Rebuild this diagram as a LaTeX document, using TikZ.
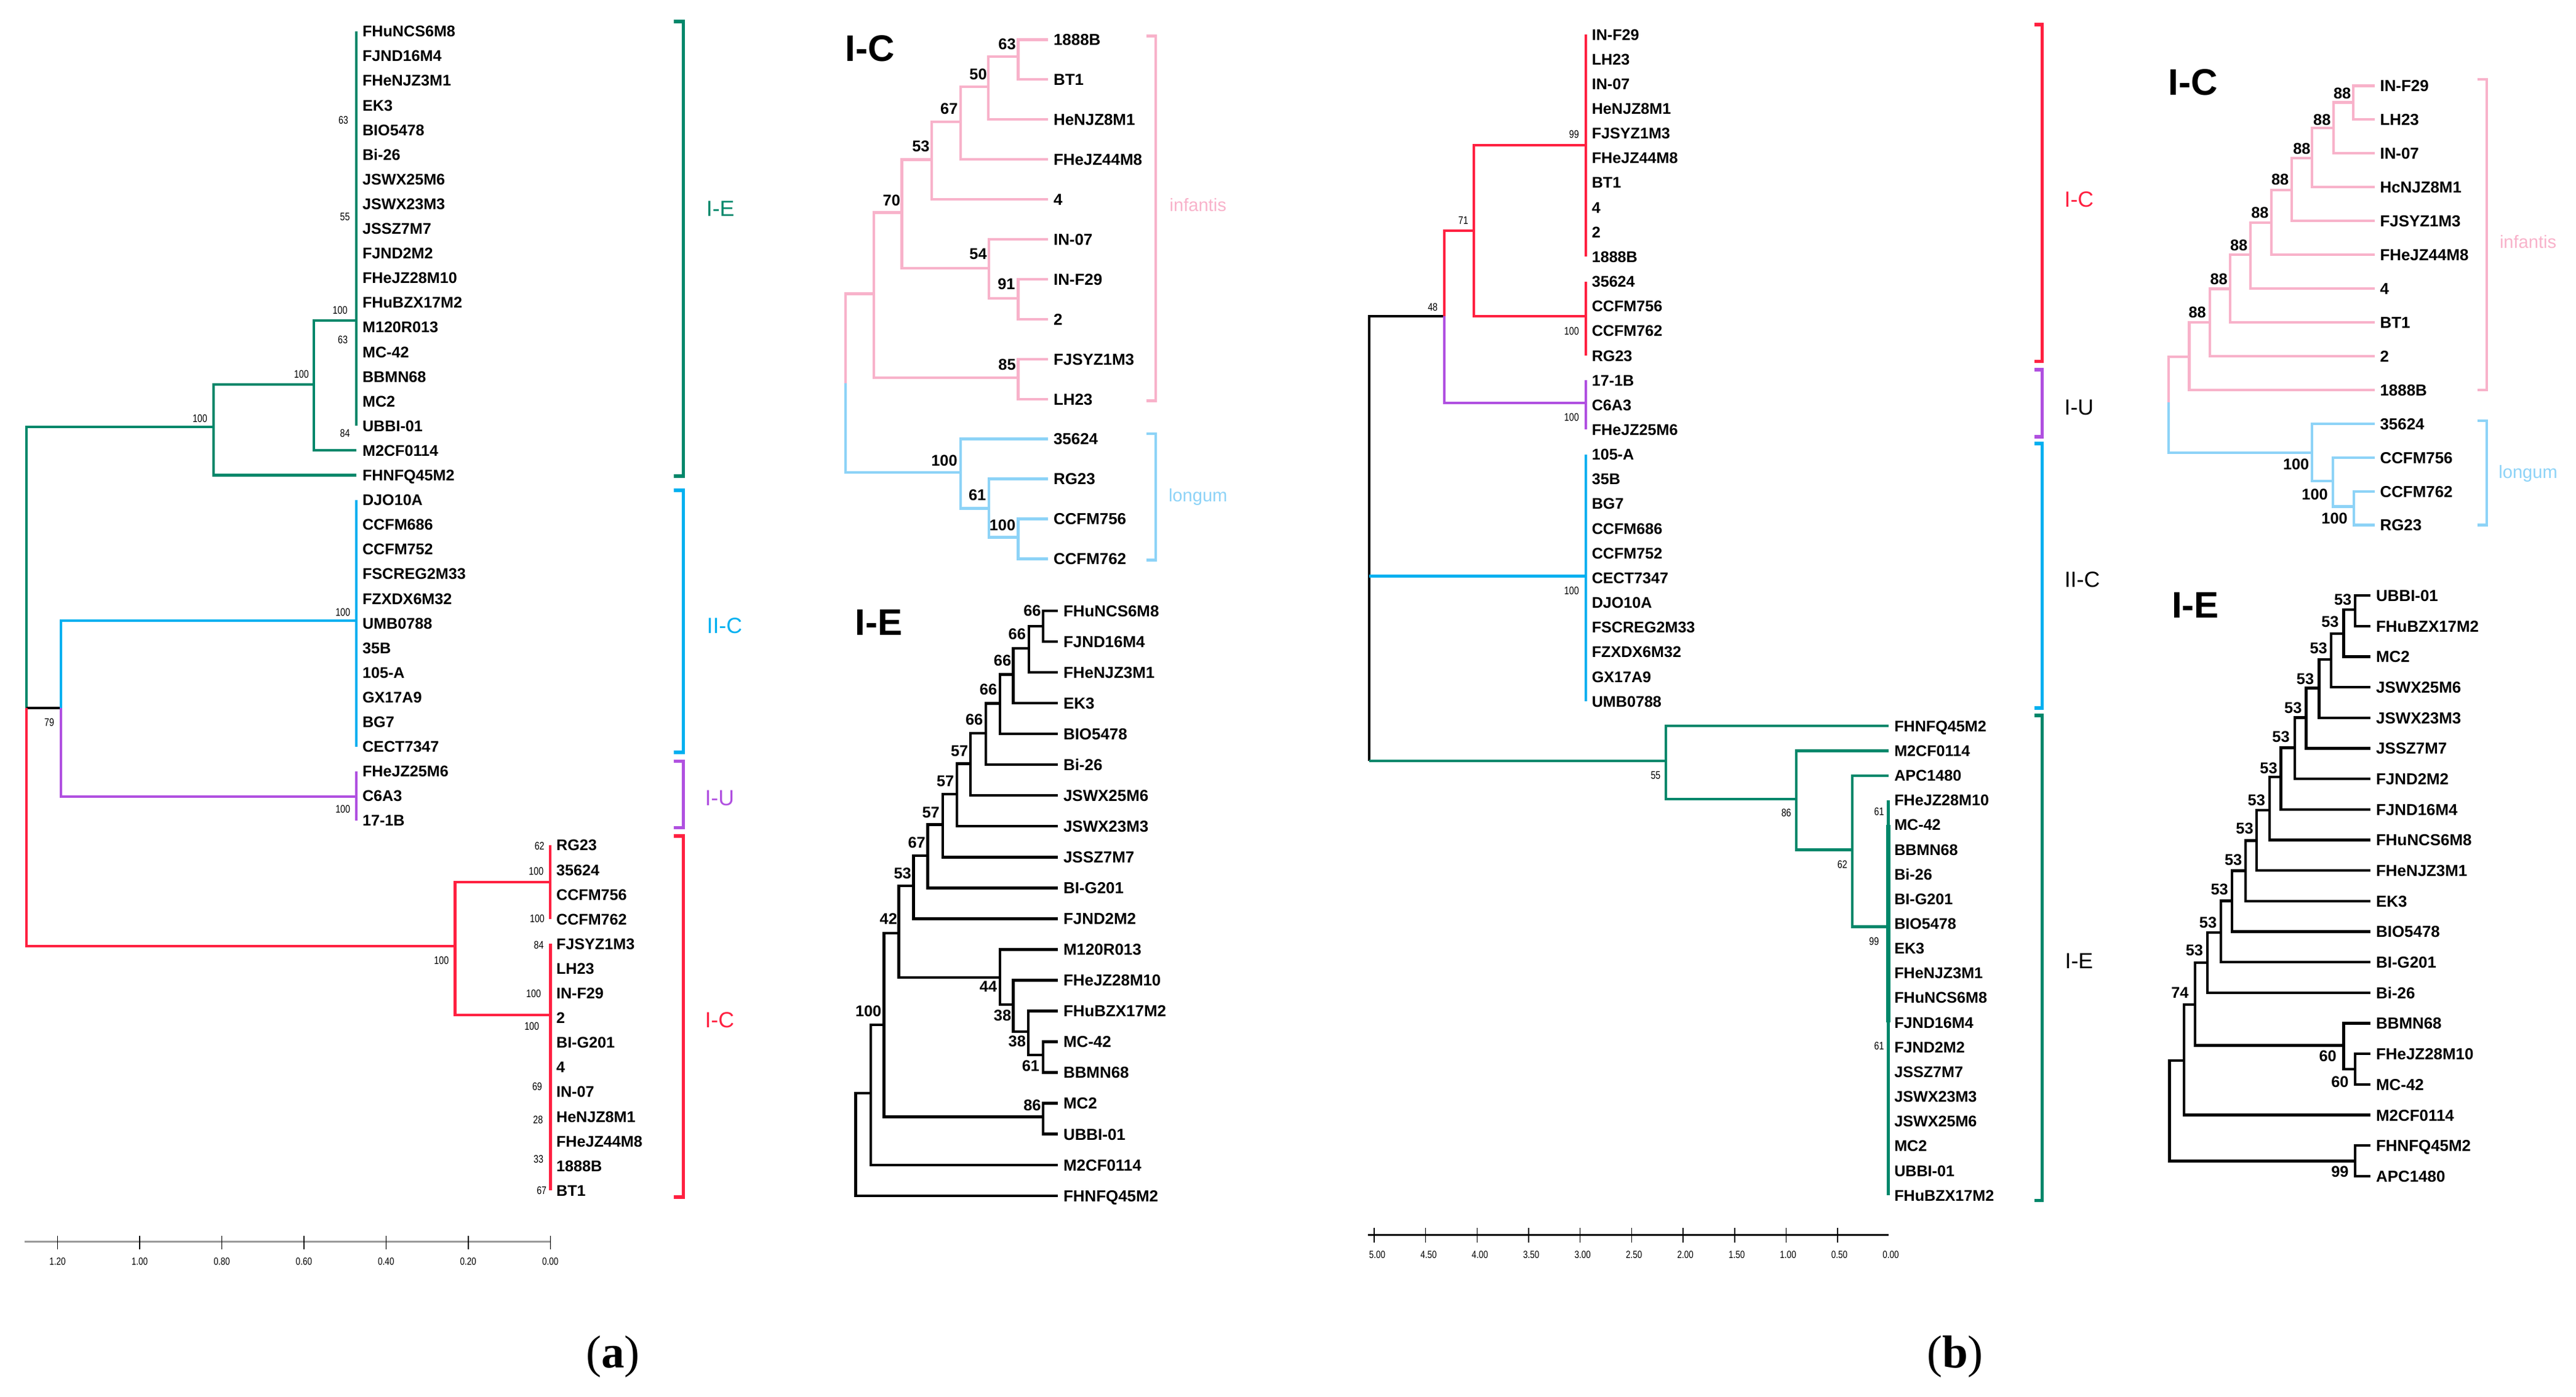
\documentclass[tikz,border=0pt]{standalone}
\usepackage{fontspec}
\setmainfont{Liberation Sans}
\newfontfamily\narrowfont[FakeStretch=0.8]{Liberation Sans}
\newfontfamily\panelfont{Liberation Serif}
\definecolor{cIE}{HTML}{00876A}
\definecolor{cIIC}{HTML}{00B0F0}
\definecolor{cIU}{HTML}{B050E0}
\definecolor{cIC}{HTML}{FF2040}
\definecolor{cPink}{HTML}{F8B2CA}
\definecolor{cLong}{HTML}{8DD3F7}

\begin{document}
\begin{tikzpicture}[
  x=0.5mm, y=-0.5mm,
  limb/.style={line width=2.2pt},
  limbI/.style={line width=2.3pt},
  brk/.style={line width=3pt},
  brkI/.style={line width=2.3pt},
  leafM/.style={anchor=west, inner xsep=5pt, inner ysep=0pt, text height=9.6pt, text depth=0pt,
    font=\fontsize{13.4}{14}\selectfont\bfseries},
  leafI/.style={anchor=west, inner xsep=4.5pt, inner ysep=0pt, text height=10pt, text depth=0pt,
    font=\fontsize{13.8}{15}\selectfont\bfseries},
  bootM/.style={inner sep=0pt, font=\narrowfont\fontsize{9.5}{10}\selectfont},
  bootI/.style={inner sep=0pt, font=\fontsize{13.5}{14}\selectfont\bfseries},
  clade/.style={inner sep=0pt, font=\fontsize{19}{20}\selectfont},
  subsp/.style={inner sep=0pt, font=\fontsize{15.5}{16}\selectfont},
  insettitle/.style={inner sep=0pt, font=\fontsize{32}{34}\selectfont\bfseries},
  axlab/.style={inner sep=0pt, font=\narrowfont\fontsize{9}{10}\selectfont},
  panel/.style={inner sep=0pt, font=\panelfont\fontsize{40}{44}\selectfont}
]
\useasboundingbox (0,0) rectangle (1568,850.3);

% ---------- (a) main tree ----------
\foreach \lab [count=\i] in {FHuNCS6M8,FJND16M4,FHeNJZ3M1,EK3,BIO5478,Bi-26,JSWX25M6,JSWX23M3,JSSZ7M7,FJND2M2,FHeJZ28M10,FHuBZX17M2,M120R013,MC-42,BBMN68,MC2,UBBI-01,M2CF0114,FHNFQ45M2,DJO10A,CCFM686,CCFM752,FSCREG2M33,FZXDX6M32,UMB0788,35B,105-A,GX17A9,BG7,CECT7347,FHeJZ25M6,C6A3,17-1B}
  \node[leafM] (a\i) at (217,{19+15.02*(\i-1)}) {\lab};
\foreach \lab [count=\i from 34] in {RG23,35624,CCFM756,CCFM762,FJSYZ1M3,LH23,IN-F29,2,BI-G201,4,IN-07,HeNJZ8M1,FHeJZ44M8,1888B,BT1}
  \node[leafM] (a\i) at (335,{19+15.02*(\i-1)}) {\lab};

\coordinate (aR) at (16,431);
\coordinate (aE1) at (130,260);
\coordinate (aE2) at (191,234);
\coordinate (aE3) at (217,195);
\coordinate (aC) at (37,431);
\coordinate (aCC) at (217,378);
\coordinate (aU) at (217,485);
\coordinate (aI) at (277,576);
\coordinate (aIl) at (335,537);
\coordinate (aIi) at (335,618);

\draw[limb, cIE] (aR) |- (aE1);
\draw[limb, cIE] (aE1) |- (aE2);
\draw[limb, cIE] (aE1) |- (a19);
\draw[limb, cIE] (aE2) |- (aE3);
\draw[limb, cIE] (aE2) |- (a18);
\draw[limb, cIE] (a1.west) -- (a17.west);
\draw[limb] (aR) -- (aC);
\draw[limb, cIIC] (aC) |- (aCC);
\draw[limb, cIIC] (a20.west) -- (a30.west);
\draw[limb, cIU] (aC) |- (aU);
\draw[limb, cIU] (a31.west) -- (a33.west);
\draw[limb, cIC] (aR) |- (aI);
\draw[limb, cIC] (aI) |- (aIl);
\draw[limb, cIC] (aI) |- (aIi);
\draw[limb, cIC] (a34.west) -- (a37.west);
\draw[limb, cIC, line width=3pt] (a38.west) -- (a48.west);

\foreach \v/\xx/\yy [count=\k] in {63/209/73,55/210/132,100/207/189,63/208.7/207,84/210/264,100/183.5/228,100/121.7/255,79/30/440,100/208.7/372.8,100/208.7/492.6,100/268.7/585,62/328.4/515,100/326.4/530.4,100/327/559.5,84/328/575.3,100/324.8/605,100/323.7/625,69/327/661.8,28/327.5/681.7,33/327.8/706,67/329.7/724.8}
  \node[bootM] (ba\k) at (\xx,\yy) {\v};

% brackets (a)
\draw[brk, cIE] (410,13) -| (416,290) -- (410,290);
\draw[brk, cIIC] (410,298.5) -| (416,458) -- (410,458);
\draw[brk, cIU] (410,463.5) -| (416,504) -- (410,504);
\draw[brk, cIC] (410,509) -| (416,729) -- (410,729);
\node[clade, cIE] (laIE) at (438.5,127) {I-E};
\node[clade, cIIC] (laIIC) at (441,381) {II-C};
\node[clade, cIU] (laIU) at (438,486) {I-U};
\node[clade, cIC] (laIC) at (438,621) {I-C};

% axis (a)
\draw[line width=1.8pt, gray!80] (15,756) -- (335,756);
\foreach \v [count=\k from 0] in {1.20,1.00,0.80,0.60,0.40,0.20,0.00} {
  \draw[line width=0.8pt] ({35+50*\k},752.6) -- ({35+50*\k},760.6);
  \node[axlab] (ta\k) at ({35+50*\k},768) {\v};
}

% ---------- (a) inset I-C ----------
\node[insettitle] (tpa) at (529.5,29.6) {I-C};
\foreach \lab [count=\i] in {1888B,BT1,HeNJZ8M1,FHeJZ44M8,4,IN-07,IN-F29,2,FJSYZ1M3,LH23,35624,RG23,CCFM756,CCFM762}
  \node[leafI] (p\i) at (638,{24.1+24.32*(\i-1)}) {\lab};
\coordinate (pA) at (619.7,34.4);
\coordinate (pB) at (601.6,52.7);
\coordinate (pC) at (584.7,74.2);
\coordinate (pD) at (567.2,97.2);
\coordinate (pE) at (549,129.4);
\coordinate (pF) at (602,163.4);
\coordinate (pG) at (619.7,181.7);
\coordinate (pH) at (531.8,178.9);
\coordinate (pI) at (619.7,230);
\coordinate (pR) at (514.6,233.3);
\coordinate (pJ) at (584.7,287.7);
\coordinate (pK) at (602,309.6);
\coordinate (pL) at (619.7,327.2);
\foreach \p/\c in {pR/pH,pH/pE,pH/pI,pE/pD,pE/pF,pD/pC,pD/p5,pC/pB,pC/p4,pB/pA,pB/p3,pA/p1,pA/p2,pF/p6,pF/pG,pG/p7,pG/p8,pI/p9,pI/p10}
  \draw[limbI, cPink] (\p) |- (\c);
\foreach \p/\c in {pR/pJ,pJ/p11,pJ/pK,pK/p12,pK/pL,pL/p13,pL/p14}
  \draw[limbI, cLong] (\p) |- (\c);
\foreach \v/\xx/\yy [count=\k] in {63/613/26.9,50/595.4/45.2,67/577.7/66.2,53/560.5/89.2,70/542.7/121.9,54/595.4/154.8,91/612.6/173,85/613/221.9,100/574.8/280.6,61/594.9/301.6,100/610.2/319.7}
  \node[bootI] (bp\k) at (\xx,\yy) {\v};
\draw[brkI, cPink] (698,21.9) -| (703.4,244) -- (698,244);
\draw[brkI, cLong] (698,264) -| (703.4,341) -- (698,341);
\node[subsp, cPink] (inpa) at (729.2,124.7) {infantis};
\node[subsp, cLong] (lopa) at (729.2,302.7) {longum};

% ---------- (a) inset I-E ----------
\node[insettitle] (tqa) at (535,379) {I-E};
\foreach \lab [count=\i] in {FHuNCS6M8,FJND16M4,FHeNJZ3M1,EK3,BIO5478,Bi-26,JSWX25M6,JSWX23M3,JSSZ7M7,BI-G201,FJND2M2,M120R013,FHeJZ28M10,FHuBZX17M2,MC-42,BBMN68,MC2,UBBI-01,M2CF0114,FHNFQ45M2}
  \node[leafI] (q\i) at (644,{372+18.74*(\i-1)}) {\lab};
\coordinate (qA) at (635,381.2);
\coordinate (qB) at (626.4,394.9);
\coordinate (qC) at (616.8,410.7);
\coordinate (qD) at (608.8,428.3);
\coordinate (qE) at (600,446.6);
\coordinate (qF) at (590.7,465);
\coordinate (qG) at (582.4,483.7);
\coordinate (qH) at (573.9,502.1);
\coordinate (qI) at (564.7,521);
\coordinate (qJ) at (556.1,539.4);
\coordinate (qK) at (547.1,568.3);
\coordinate (qM1) at (608.8,595.3);
\coordinate (qM2) at (616.8,611.6);
\coordinate (qM3) at (626,628.2);
\coordinate (qM4) at (635,642.4);
\coordinate (qL) at (538.1,624);
\coordinate (qN) at (635,680);
\coordinate (qO) at (529.9,665.5);
\coordinate (qR) at (520.9,696);
\foreach \p/\c in {qA/q1,qA/q2,qB/qA,qB/q3,qC/qB,qC/q4,qD/qC,qD/q5,qE/qD,qE/q6,qF/qE,qF/q7,qG/qF,qG/q8,qH/qG,qH/q9,qI/qH,qI/q10,qJ/qI,qJ/q11,qK/qJ,qK/qM1,qM1/q12,qM1/qM2,qM2/q13,qM2/qM3,qM3/q14,qM3/qM4,qM4/q15,qM4/q16,qL/qK,qL/qN,qN/q17,qN/q18,qO/qL,qO/q19,qR/qO,qR/q20}
  \draw[limbI] (\p) |- (\c);
\foreach \v/\xx/\yy [count=\k] in {66/628.3/372,66/619.1/386.2,66/610.2/402.3,66/601.6/419.9,66/593/438.2,57/584/457.2,57/575.4/475.5,57/566.6/494.7,67/558/513.1,53/549.4/532,42/540.8/559.6,44/601.6/600.6,38/610.2/618.2,38/619.1/634,61/627.4/649.2,100/528.6/615.6,86/628.3/673}
  \node[bootI] (bq\k) at (\xx,\yy) {\v};

% ---------- (b) main tree ----------
\foreach \lab [count=\i] in {IN-F29,LH23,IN-07,HeNJZ8M1,FJSYZ1M3,FHeJZ44M8,BT1,4,2,1888B,35624,CCFM756,CCFM762,RG23,17-1B,C6A3,FHeJZ25M6,105-A,35B,BG7,CCFM686,CCFM752,CECT7347,DJO10A,FSCREG2M33,FZXDX6M32,GX17A9,UMB0788}
  \node[leafM] (b\i) at (965.3,{21+15.04*(\i-1)}) {\lab};
\foreach \lab [count=\i from 29] in {FHNFQ45M2,M2CF0114,APC1480,FHeJZ28M10,MC-42,BBMN68,Bi-26,BI-G201,BIO5478,EK3,FHeNJZ3M1,FHuNCS6M8,FJND16M4,FJND2M2,JSSZ7M7,JSWX23M3,JSWX25M6,MC2,UBBI-01,FHuBZX17M2}
  \node[leafM] (b\i) at (1149.4,{21+15.04*(\i-1)}) {\lab};

\coordinate (bR) at (833.3,350.8);
\coordinate (bRg) at (833.3,463.4);
\coordinate (bN48) at (879.2,192.6);
\coordinate (bN71) at (897,140.5);
\coordinate (bInf) at (965.3,88.3);
\coordinate (bLong) at (965.3,192.6);
\coordinate (bU) at (965.3,245.2);
\coordinate (bCC) at (965.3,350.8);
\coordinate (bE55) at (1014,463.4);
\coordinate (bE86) at (1093.5,486.5);
\coordinate (bE62) at (1127.6,517.5);
\coordinate (bE99) at (1149.4,564.3);

\draw[limb] (bR) |- (bN48);
\draw[limb] (bR) -- (bRg);
\draw[limb, cIIC] (bR) -- (bCC);
\draw[limb, cIIC] (b18.west) -- (b28.west);
\draw[limb, cIC] (bN48) |- (bN71);
\draw[limb, cIU] (bN48) |- (bU);
\draw[limb, cIU] (b15.west) -- (b17.west);
\draw[limb, cIC] (bN71) |- (bInf);
\draw[limb, cIC] (bN71) |- (bLong);
\draw[limb, cIC] (b1.west) -- (b10.west);
\draw[limb, cIC] (b11.west) -- (b14.west);
\draw[limb, cIE] (bRg) -- (bE55);
\draw[limb, cIE] (bE55) |- (b29);
\draw[limb, cIE] (bE55) |- (bE86);
\draw[limb, cIE] (bE86) |- (b30);
\draw[limb, cIE] (bE86) |- (bE62);
\draw[limb, cIE] (bE62) |- (b31);
\draw[limb, cIE] (bE62) |- (bE99);
\draw[limb, cIE] (b32.west) -- (b48.west);
\draw[limb, cIE, line width=3.8pt] (b33.west) -- (b41.west);

\foreach \v/\xx/\yy [count=\k] in {48/872.1/186.9,71/890.7/134.3,99/958.1/81.8,100/956.6/201.6,100/956.6/254.2,100/956.6/359.8,55/1007.8/472.2,86/1087.3/495.1,62/1121.4/526.4,61/1143.8/494.1,99/1140.7/573.3,61/1143.8/637}
  \node[bootM] (bb\k) at (\xx,\yy) {\v};

% brackets (b)
\draw[brk, cIC] (1238.5,14.9) -| (1243.1,220.1) -- (1238.5,220.1);
\draw[brk, cIU] (1238.5,225.1) -| (1243.1,266) -- (1238.5,266);
\draw[brk, cIIC] (1238.5,270) -| (1243.1,431.1) -- (1238.5,431.1);
\draw[brk, cIE] (1238.5,435.7) -| (1243.1,731) -- (1238.5,731);
\node[clade, cIC] (lbIC) at (1265.5,121.3) {I-C};
\node[clade] (lbIU) at (1265.5,248) {I-U};
\node[clade] (lbIIC) at (1267.4,353.1) {II-C};
\node[clade] (lbIE) at (1265.5,585.2) {I-E};

% axis (b)
\draw[line width=1.7pt] (832.7,751.9) -- (1149.4,751.9);
\foreach \k in {0,...,9}
  \draw[line width=0.8pt] ({836.4+31.35*\k},747.7) -- ({836.4+31.35*\k},756.6);
\foreach \v [count=\k from 0] in {5.00,4.50,4.00,3.50,3.00,2.50,2.00,1.50,1.00,0.50,0.00}
  \node[axlab] (tb\k) at ({838.3+31.26*\k},764.1) {\v};

% ---------- (b) inset I-C ----------
\node[insettitle] (tra) at (1335,50) {I-C};
\foreach \lab [count=\i] in {IN-F29,LH23,IN-07,HcNJZ8M1,FJSYZ1M3,FHeJZ44M8,4,BT1,2,1888B,35624,CCFM756,CCFM762,RG23}
  \node[leafI] (r\i) at (1445.4,{52.2+20.58*(\i-1)}) {\lab};
\coordinate (rA) at (1432.4,62.4);
\coordinate (rB) at (1420.4,78);
\coordinate (rC) at (1407.2,96.3);
\coordinate (rD) at (1395,115.7);
\coordinate (rE) at (1382.6,135.5);
\coordinate (rF) at (1369.8,155.2);
\coordinate (rG) at (1357.5,175.9);
\coordinate (rH) at (1345.2,196.3);
\coordinate (rI) at (1332.5,217.2);
\coordinate (rR) at (1319.9,245.1);
\coordinate (rJ) at (1407.2,275.6);
\coordinate (rK) at (1420,292.8);
\coordinate (rL) at (1432.7,308.5);
\foreach \p/\c in {rR/rI,rI/rH,rI/r10,rH/rG,rH/r9,rG/rF,rG/r8,rF/rE,rF/r7,rE/rD,rE/r6,rD/rC,rD/r5,rC/rB,rC/r4,rB/rA,rB/r3,rA/r1,rA/r2}
  \draw[limbI, cPink] (\p) |- (\c);
\foreach \p/\c in {rR/rJ,rJ/r11,rJ/rK,rK/r12,rK/rL,rL/r13,rL/r14}
  \draw[limbI, cLong] (\p) |- (\c);
\foreach \v/\xx/\yy [count=\k] in {88/1425.7/57,88/1413.4/73.1,88/1401.1/90.7,88/1387.9/109.2,88/1375.6/129.4,88/1362.8/149.4,88/1350.6/169.9,88/1337.5/190.3,100/1397.6/282.7,100/1409/301,100/1421/315.6}
  \node[bootI] (br\k) at (\xx,\yy) {\v};
\draw[brkI, cPink] (1508,48.4) -| (1513.6,237.6) -- (1508,237.6);
\draw[brkI, cLong] (1508,256.3) -| (1513.6,319.7) -- (1508,319.7);
\node[subsp, cPink] (inpb) at (1538.8,147.3) {infantis};
\node[subsp, cLong] (lopb) at (1538.8,288.5) {longum};

% ---------- (b) inset I-E ----------
\node[insettitle] (tsa) at (1336.3,368.6) {I-E};
\foreach \lab [count=\i] in {UBBI-01,FHuBZX17M2,MC2,JSWX25M6,JSWX23M3,JSSZ7M7,FJND2M2,FJND16M4,FHuNCS6M8,FHeNJZ3M1,EK3,BIO5478,BI-G201,Bi-26,BBMN68,FHeJZ28M10,MC-42,M2CF0114,FHNFQ45M2,APC1480}
  \node[leafI] (s\i) at (1443,{362.6+18.61*(\i-1)}) {\lab};
\coordinate (sA) at (1433.6,371.3);
\coordinate (sB) at (1426.6,385.7);
\coordinate (sC) at (1419,401.5);
\coordinate (sD) at (1411.6,419);
\coordinate (sE) at (1403.7,436.9);
\coordinate (sF) at (1396.7,455.3);
\coordinate (sG) at (1388.4,473.2);
\coordinate (sH) at (1381.4,493.4);
\coordinate (sI) at (1373.5,511.8);
\coordinate (sJ) at (1366.8,530.2);
\coordinate (sK) at (1358.6,548.6);
\coordinate (sL) at (1351.9,567.8);
\coordinate (sM) at (1343.6,586.1);
\coordinate (sN) at (1336.1,611.6);
\coordinate (sP) at (1426.6,636.6);
\coordinate (sQ) at (1433.6,651);
\coordinate (sO) at (1329.4,645.8);
\coordinate (sR) at (1320.6,676);
\coordinate (sS) at (1433.6,707);
\foreach \p/\c in {sA/s1,sA/s2,sB/sA,sB/s3,sC/sB,sC/s4,sD/sC,sD/s5,sE/sD,sE/s6,sF/sE,sF/s7,sG/sF,sG/s8,sH/sG,sH/s9,sI/sH,sI/s10,sJ/sI,sJ/s11,sK/sJ,sK/s12,sL/sK,sL/s13,sM/sL,sM/s14,sN/sM,sN/sP,sP/s15,sP/sQ,sQ/s16,sQ/s17,sO/sN,sO/s18,sR/sO,sR/sS,sS/s19,sS/s20}
  \draw[limbI] (\p) |- (\c);
\foreach \v/\xx/\yy [count=\k] in {53/1426.1/365.2,53/1418.3/378.6,53/1411.3/394.9,53/1403.2/413.3,53/1395.8/431.1,53/1388.4/448.7,53/1380.9/467.7,53/1373.5/487.4,53/1366.3/504.4,53/1359.4/523.6,53/1351/541.5,53/1344/561.7,53/1335.7/578.8,74/1326.9/604.5,60/1416.9/643.1,60/1424.3/658.9,99/1424.3/713.3}
  \node[bootI] (bs\k) at (\xx,\yy) {\v};

% panel labels
\node[panel] (pla) at (373,826) {(\textbf{a})};
\node[panel] (plb) at (1190,826) {(\textbf{b})};
\end{tikzpicture}
\end{document}
